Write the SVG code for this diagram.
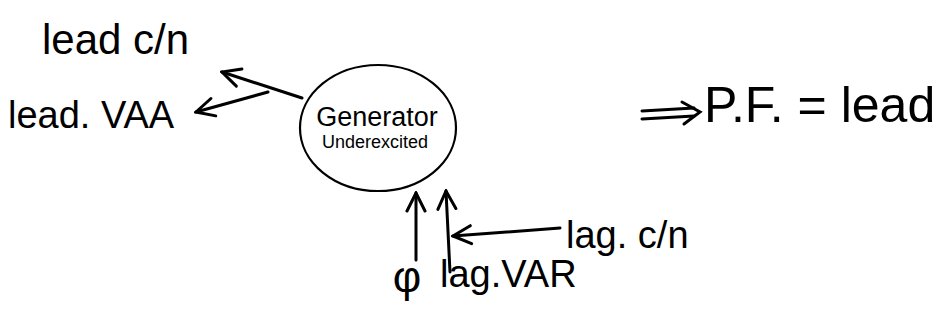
<svg xmlns="http://www.w3.org/2000/svg" width="952" height="331" viewBox="0 0 952 331">
<style>
.t{font-family:"Liberation Sans","DejaVu Sans",sans-serif;fill:#000}
.ln{stroke:#000;stroke-width:3;fill:none;stroke-linecap:round}
</style>
<defs>
<marker id="ahb" viewBox="0 0 24 24" refX="22" refY="12" markerWidth="24" markerHeight="24" markerUnits="userSpaceOnUse" orient="auto-start-reverse">
<path d="M4,3 L22,12 L4,21" fill="none" stroke="#000" stroke-width="3" stroke-linecap="round"/>
</marker>
</defs>
<rect width="952" height="331" fill="#fff"/>
<g id="lead-cn"><text class="t" x="42" y="54" font-size="42">lead c/n</text></g>
<g id="lead-vaa"><text class="t" x="8" y="128" font-size="38">lead. VAA</text></g>
<g id="generator">
<ellipse cx="378" cy="128" rx="78" ry="63" fill="none" stroke="#000" stroke-width="2.2"/>
<text class="t" x="377" y="126" font-size="27" text-anchor="middle">Generator</text>
<text class="t" x="375" y="148" font-size="18" text-anchor="middle">Underexcited</text>
</g>
<g id="phi"><text class="t" x="407" y="292" font-size="44" text-anchor="middle">φ</text></g>
<g id="lag-var"><text class="t" x="440" y="287" font-size="38">lag.VAR</text></g>
<g id="lag-cn"><text class="t" x="566" y="248" font-size="38">lag. c/n</text></g>
<g id="pf"><text class="t" x="704" y="122" font-size="50">P.F. = lead</text></g>
<g id="connectors">
<line class="ln" x1="302" y1="98" x2="222" y2="72" marker-end="url(#ahb)"/>
<line class="ln" x1="268" y1="92" x2="196" y2="112" marker-end="url(#ahb)"/>
<line class="ln" x1="416" y1="260" x2="416" y2="193" marker-end="url(#ahb)"/>
<line class="ln" x1="450" y1="272" x2="446" y2="191" marker-end="url(#ahb)"/>
<line class="ln" x1="560" y1="228" x2="453" y2="236" marker-end="url(#ahb)"/>
<path class="ln" d="M642,111 L694,108 M642,119 L694,116"/>
<path class="ln" d="M682,102 L700,112 L684,124"/>
</g>
</svg>
